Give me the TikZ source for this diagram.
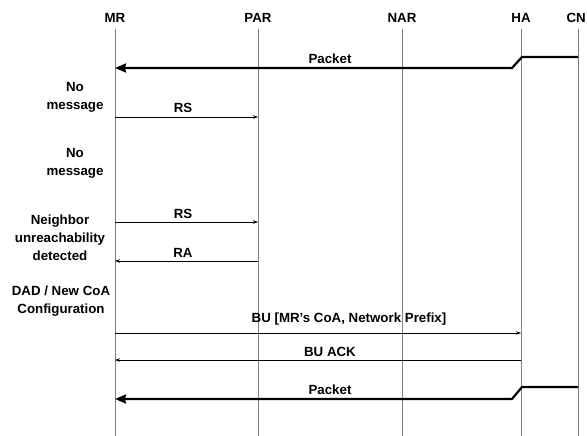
\documentclass[tikz,border=0pt]{standalone}
\usepackage{fontspec}
\setmainfont{Liberation Sans}
\usetikzlibrary{arrows.meta}
\begin{document}
\begin{tikzpicture}[x=1pt,y=-1pt,
  lbl/.style={font=\bfseries\fontsize{13.3}{15}\selectfont, inner sep=0pt},
  side/.style={lbl, align=center},
  life/.style={draw=black!50, line width=0.6pt},
  msg/.style={draw=black, line width=0.5pt, -{Stealth[length=5pt,width=3.5pt]}},
  pkt/.style={draw=black, line width=2.2pt, -{Stealth[length=11pt,width=9pt,inset=1pt]}}]
\useasboundingbox (0,0) rectangle (587,436);
% entity heads
\node[lbl] (MR) at (115,18) {MR};
\node[lbl] (PAR) at (258,18) {PAR};
\node[lbl] (NAR) at (402,18) {NAR};
\node[lbl] (HA) at (521,18) {HA};
\node[lbl, anchor=east] (CN) at (586,18) {CN};
% lifeline ends
\coordinate (MRe) at (115,436);
\coordinate (PARe) at (258,436);
\coordinate (NARe) at (402,436);
\coordinate (HAe) at (521,436);
\coordinate (CNe) at (578,436);
\coordinate (MRs) at (115,29);
\coordinate (PARs) at (258,29);
\coordinate (NARs) at (402,29);
\coordinate (HAs) at (521,29);
\coordinate (CNs) at (578,29);
\draw[life] (MRs) -- (MRe);
\draw[life] (PARs) -- (PARe);
\draw[life] (NARs) -- (NARe);
\draw[life] (HAs) -- (HAe);
\draw[life] (CNs) -- (CNe);
% side notes
\node[side] (n1) at (75,97) {No\\[3pt]message};
\node[side] (n2) at (75,163) {No\\[3pt]message};
\node[side] (n3) at (60,238) {Neighbor\\[3pt]unreachability\\[3pt]detected};
\node[side] (n4) at (61,301) {DAD / New CoA\\[3pt]Configuration};
% packet 1
\coordinate (p1cn) at (578,57);
\coordinate (p1ha) at (522,57);
\coordinate (p1k) at (512,68);
\coordinate (p1mr) at (115,68);
\draw[pkt] (p1cn) -- (p1ha) -- (p1k) -- (p1mr);
\node[lbl] (l1) at (330,59) {Packet};
% RS 1
\coordinate (rs1a) at (115,117);
\coordinate (rs1b) at (258,117);
\draw[msg] (rs1a) -- (rs1b);
\node[lbl] (l2) at (183,108) {RS};
% RS 2
\coordinate (rs2a) at (115,222);
\coordinate (rs2b) at (258,222);
\draw[msg] (rs2a) -- (rs2b);
\node[lbl] (l3) at (183,214) {RS};
% RA
\coordinate (raa) at (258,261);
\coordinate (rab) at (115,261);
\draw[msg] (raa) -- (rab);
\node[lbl] (l4) at (183,253) {RA};
% BU
\coordinate (bua) at (115,333);
\coordinate (bub) at (521,333);
\draw[msg] (bua) -- (bub);
\node[lbl] (l5) at (349,319) {BU [MR’s CoA, Network Prefix]};
% BU ACK
\coordinate (baa) at (521,360);
\coordinate (bab) at (115,360);
\draw[msg] (baa) -- (bab);
\node[lbl] (l6) at (330,352) {BU ACK};
% packet 2
\coordinate (p2cn) at (578,387);
\coordinate (p2ha) at (522,387);
\coordinate (p2k) at (512,399);
\coordinate (p2mr) at (115,399);
\draw[pkt] (p2cn) -- (p2ha) -- (p2k) -- (p2mr);
\node[lbl] (l7) at (330,390) {Packet};
\end{tikzpicture}
\end{document}
